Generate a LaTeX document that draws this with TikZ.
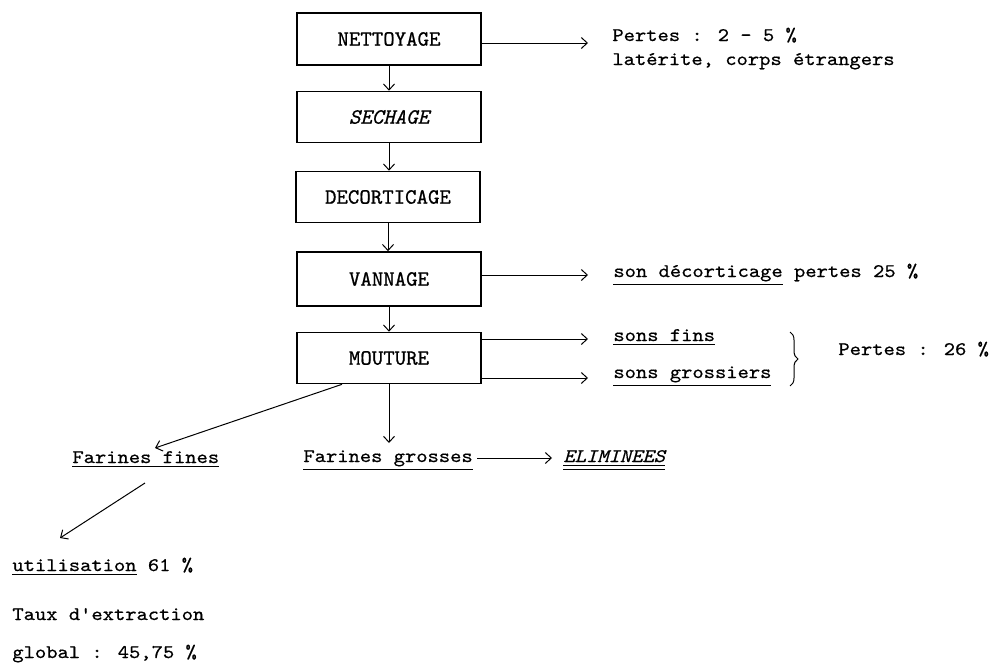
\documentclass[tikz,border=0pt]{standalone}
\usepackage{fontspec}
\newfontfamily\tw{lmmono10-regular}[Extension=.otf, ItalicFont=lmmono10-italic, FakeStretch=1.12, FakeBold=0.6]
\newfontfamily\twbox{lmmono10-regular}[Extension=.otf, ItalicFont=lmmono10-italic, FakeBold=0.8]
\usetikzlibrary{arrows.meta,decorations.pathreplacing}
\begin{document}
\begin{tikzpicture}[x=0.5pt,y=-0.5pt,
 stage/.style={draw, line width=0.8pt, minimum width=92pt, minimum height=25.5pt, inner sep=0, font={\twbox\fontsize{10.9}{12}\selectfont}},
 lbl/.style={inner sep=0, anchor=base west, font={\tw\fontsize{9.6}{11}\selectfont}},
 flow/.style={-{Straight Barb[length=3pt,width=5.5pt]}, line width=0.5pt},
]
\useasboundingbox (0,0) rectangle (989,664);

% stages
\node[stage, minimum height=26pt] (net) at (389,39) {NETTOYAGE};
\node[stage] (sec) at (389,117) {\itshape SECHAGE};
\node[stage] (dec) at (388,197) {DECORTICAGE};
\node[stage, minimum height=27pt] (van) at (389,279) {VANNAGE};
\node[stage] (mou) at (389,358) {MOUTURE};

\draw[flow] (net.south) -- (net.south |- sec.north);
\draw[flow] (sec.south) -- (sec.south |- dec.north);
\draw[flow] (dec.south) -- (dec.south |- van.north);
\draw[flow] (van.south) -- (van.south |- mou.north);

% right-hand outputs
\coordinate (e1) at (588,43);
\coordinate (e2) at (588,275);
\coordinate (e3) at (588,339);
\coordinate (e4) at (588,378);
\draw[flow] (net.east |- e1) -- (e1);
\draw[flow] (van.east |- e2) -- (e2);
\draw[flow] (mou.east |- e3) -- (e3);
\draw[flow] (mou.east |- e4) -- (e4);

\node[lbl] (p1) at (612,41) {Pertes : 2 - 5 \%};
\node[lbl] (p1b) at (612,65) {latérite, corps étrangers};
\node[lbl] (sd) at (613,277) {\underline{son décorticage} pertes 25 \%};
\node[lbl] (sf) at (613,341) {\underline{sons fins}};
\node[lbl] (sg) at (613,378) {\underline{sons grossiers}};

\coordinate (bt) at (790,332);
\coordinate (bb) at (790,386);
\draw[line width=0.5pt, decorate, decoration={brace, amplitude=4pt}] (bt) -- (bb);
\node[lbl] (p26) at (838,355) {Pertes : 26 \%};

% bottom part
\node[lbl] (ff) at (72,463) {\underline{Farines fines}};
\node[lbl] (fg) at (303,462) {\underline{Farines grosses}};
\node[lbl] (el) at (563,462) {\underline{\underline{\itshape ELIMINEES}}};
\node[lbl] (ut) at (12,571) {\underline{utilisation} 61 \%};
\node[lbl] (tx) at (12,620) {Taux d'extraction};
\node[lbl] (gl) at (12,658) {global : 45,75 \%};

\coordinate (ffin) at (155,448);
\coordinate (fgin) at (389,443);
\coordinate (ffout) at (145,483);
\coordinate (utin) at (60,538);
\coordinate (fgout) at (477,458);
\coordinate (elin) at (552,458);

\draw[flow] ([xshift=-23.5pt]mou.south) -- (ffin);
\draw[flow] (mou.south) -- (fgin);
\draw[flow] (ffout) -- (utin);
\draw[flow] (fgout) -- (elin);
\end{tikzpicture}
\end{document}
